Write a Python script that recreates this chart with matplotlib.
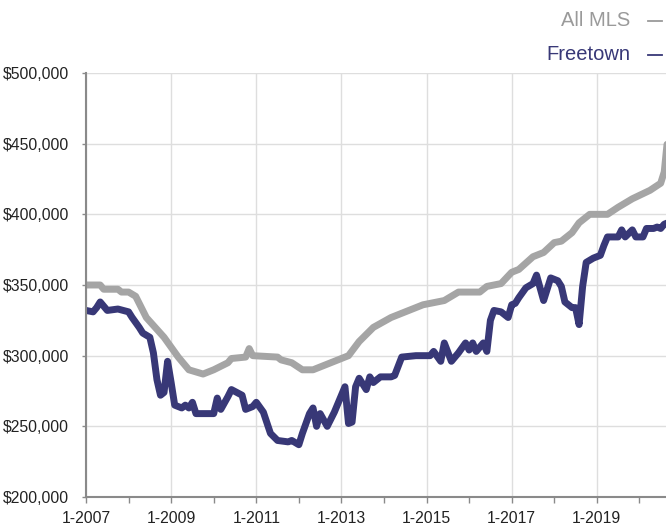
import matplotlib.pyplot as plt
from matplotlib.lines import Line2D

# months counted from 1-2007
mls_month = [0, 4, 5, 9, 10, 12, 14, 17, 22, 26, 29, 33, 36, 40, 41, 45, 46, 47,
             54, 55, 58, 61, 64, 67, 71, 74, 77, 81, 86, 90, 95, 101, 105, 111,
             113, 117, 120, 122, 126, 129, 132, 134, 137, 139, 142, 147, 150,
             154, 159, 162, 163, 164]
mls_price = [350000, 350000, 347000, 347000, 345000, 345000, 342000, 327000,
             313000, 299000, 290000, 287000, 290000, 295000, 298000, 299000,
             305000, 300000, 299000, 297000, 295000, 290000, 290000, 293000,
             297000, 300000, 310000, 320000, 327000, 331000, 336000, 339000,
             345000, 345000, 349000, 351000, 359000, 361000, 370000, 373000,
             380000, 381000, 387000, 394000, 400000, 400000, 405000, 411000,
             417000, 422000, 430000, 455000]

ft_month = [0, 2, 3, 4, 6, 9, 12, 13, 15, 16, 18, 19, 20, 21, 22, 23, 24, 25,
            27, 28, 29, 30, 31, 36, 37, 38, 40, 41, 44, 45, 47, 48, 50, 52, 54,
            57, 58, 60, 61, 63, 64, 65, 66, 68, 70, 72, 73, 74, 75, 76, 77, 79,
            80, 81, 83, 86, 87, 89, 93, 97, 98, 100, 101, 103, 105, 107, 108,
            109, 110, 112, 113, 114, 115, 117, 119, 120, 121, 122, 124, 126,
            127, 129, 131, 133, 134, 135, 137, 138, 139, 140, 141, 143, 145,
            146, 147, 150, 151, 152, 154, 155, 157, 158, 160, 161, 162, 163, 164]
ft_price = [332000, 331000, 334000, 338000, 332000, 333000, 331000, 327000,
            320000, 316000, 313000, 302000, 283000, 272000, 274000, 296000,
            281000, 265000, 263000, 265000, 263000, 267000, 259000, 259000,
            270000, 262000, 271000, 276000, 272000, 262000, 264000, 267000,
            260000, 245000, 240000, 239000, 240000, 237000, 245000, 259000,
            263000, 250000, 259000, 250000, 260000, 272000, 278000, 252000,
            253000, 278000, 284000, 276000, 285000, 281000, 285000, 285000,
            286000, 299000, 300000, 300000, 303000, 296000, 309000, 296000,
            302000, 309000, 304000, 309000, 303000, 309000, 303000, 325000,
            332000, 331000, 327000, 336000, 337000, 341000, 348000, 351000,
            357000, 339000, 355000, 353000, 349000, 338000, 334000, 334000,
            322000, 349000, 366000, 369000, 371000, 378000, 384000, 384000,
            389000, 384000, 389000, 384000, 384000, 390000, 390000, 391000,
            390000, 393000, 394000]

year_ticks = [0, 24, 48, 72, 96, 120, 144]
year_labels = ["1-2007", "1-2009", "1-2011", "1-2013", "1-2015", "1-2017", "1-2019"]
y_ticks = [200000, 250000, 300000, 350000, 400000, 450000, 500000]

gray = "#a5a5a5"
navy = "#383877"

plt.rcParams['font.family'] = ['Liberation Sans', 'DejaVu Sans']

W, H = 666, 527
fig = plt.figure(figsize=(W / 100, H / 100), dpi=100)
ax = fig.add_axes([86 / W, 30 / H, 1 - 86 / W, 424 / H])

ax.plot(mls_month, mls_price, color=gray, lw=5, solid_joinstyle="round",
        solid_capstyle="round", zorder=3)
ax.plot(ft_month, ft_price, color=navy, lw=5, solid_joinstyle="round",
        solid_capstyle="round", zorder=4)

ax.set_xlim(0, 163.5)
ax.set_ylim(200000, 500000)
ax.set_xticks(year_ticks)
ax.set_xticklabels(year_labels)
ax.set_xticks(range(0, 164, 12), minor=True)
ax.set_yticks(y_ticks)
ax.set_yticklabels(["${:,}".format(v) for v in y_ticks])

ax.grid(True, color="#dedede", lw=1, zorder=0)
for s in ["top", "right"]:
    ax.spines[s].set_visible(False)
for s in ["left", "bottom"]:
    ax.spines[s].set_color("#8a8a8a")
    ax.spines[s].set_linewidth(1.5)
    ax.spines[s].set_zorder(5)

ax.tick_params(axis="both", which="both", colors="#8a8a8a", labelcolor="#222222",
               labelsize=11.3, width=1)
ax.tick_params(axis="x", which="both", length=4, pad=6)
ax.tick_params(axis="y", length=3, pad=9)

# legend: right-aligned text followed by a short dash
legend = [("All MLS", "#9a9a9a", 26, 21), ("Freetown", navy, 60, 55)]
for name, col, base, dash_y in legend:
    fig.text(630 / W, 1 - base / H, name, ha="right", va="baseline",
             fontsize=14.5, color=col)
    fig.add_artist(Line2D([648 / W, 662 / W], [1 - dash_y / H, 1 - dash_y / H],
                          color=col, lw=1.3, transform=fig.transFigure))

fig.savefig("out.png", dpi=100)
